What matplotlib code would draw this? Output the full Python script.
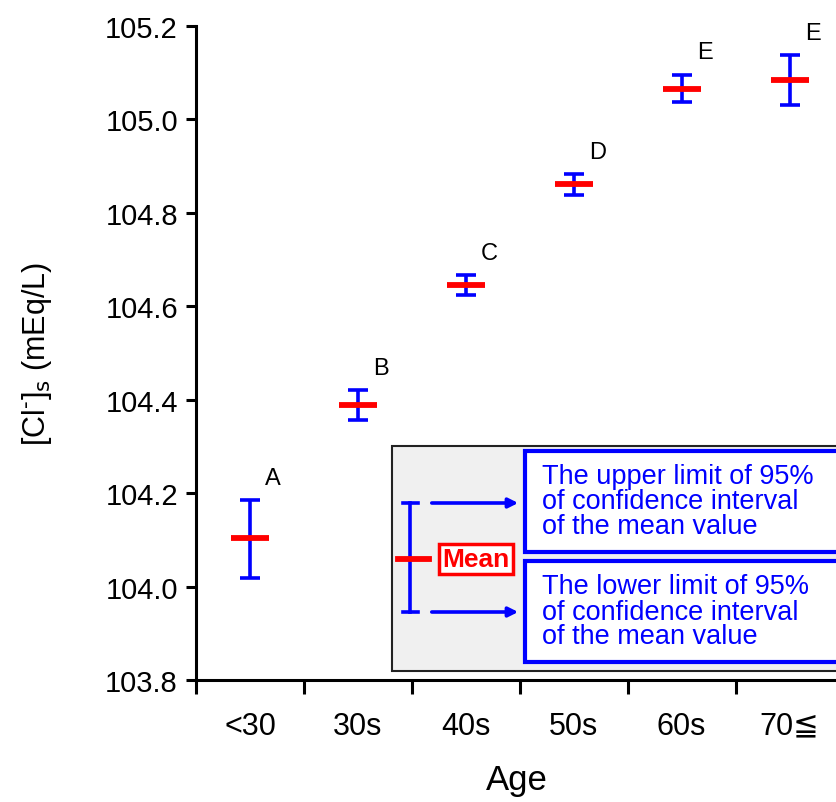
import matplotlib
matplotlib.use("Agg")
import matplotlib.pyplot as plt
from matplotlib.patches import Rectangle, FancyArrowPatch
from matplotlib.lines import Line2D

plt.rcParams['font.family'] = ['Liberation Sans', 'DejaVu Sans']

# data
age_groups = ["<30", "30s", "40s", "50s", "60s", "70\u2266"]
means = [104.104, 104.389, 104.646, 104.862, 105.066, 105.085]
ci_low = [104.018, 104.357, 104.625, 104.838, 105.037, 105.031]
ci_high = [104.185, 104.421, 104.667, 104.883, 105.096, 105.138]
letters = ["A", "B", "C", "D", "E", "E"]

W, H = 837, 803
fig = plt.figure(figsize=(W / 100, H / 100), dpi=100)

def fx(x):
    return x / W

def fy(y):
    return 1 - y / H

ax = fig.add_axes([fx(196), fy(681), fx(837) - fx(196), fy(27) - fy(681)])
ax.set_xlim(0, 5.94)
ax.set_ylim(103.8, 105.2)

xs = [i + 0.5 for i in range(len(age_groups))]
err_lo = [m - l for m, l in zip(means, ci_low)]
err_hi = [h - m for m, h in zip(means, ci_high)]
ax.errorbar(xs, means, yerr=[err_lo, err_hi], fmt="none", ecolor="#0000ff",
            elinewidth=2.6, capsize=7, capthick=2.6, zorder=3)
ax.scatter(xs, means, marker="_", s=27 ** 2, color="#ff0000", linewidths=4.2, zorder=4)
for x, top, lab in zip(xs, ci_high, letters):
    ax.annotate(lab, (x, top), xytext=(11, 8), textcoords="offset points",
                fontsize=17, ha="left", va="bottom")

# axes styling
for side in ["top", "right"]:
    ax.spines[side].set_visible(False)
for side in ["left", "bottom"]:
    ax.spines[side].set_linewidth(2.2)
ax.set_yticks([103.8 + 0.2 * i for i in range(8)])
ax.set_yticklabels([f"{103.8 + 0.2 * i:.1f}" for i in range(8)])
ax.tick_params(axis="y", direction="out", length=7, width=2.2, labelsize=21, pad=6)
ax.set_xticks(range(6))
ax.set_xticklabels([])
ax.tick_params(axis="x", which="major", direction="out", length=10, width=2.2)
ax.set_xticks(xs, minor=True)
ax.set_xticklabels(age_groups, minor=True, fontsize=22)
ax.tick_params(axis="x", which="minor", length=0, pad=22)
ax.set_xlabel("Age", fontsize=25, labelpad=16)
ax.set_ylabel(r"[Cl$^{\text{-}}$]$_{\mathrm{s}}$ (mEq/L)", fontsize=22)
ax.yaxis.set_label_coords(-(196 - 54) / (837 - 196), 0.5)

# explanatory box
fig.add_artist(Rectangle((fx(392), fy(672)), fx(845) - fx(392), fy(447) - fy(672),
                         transform=fig.transFigure, facecolor="#f0f0f0",
                         edgecolor="#222222", linewidth=1.5, zorder=5))
blue = "#0000ff"
red = "#ff0000"
fig.add_artist(Line2D([fx(410), fx(410)], [fy(504), fy(613)], color=blue, lw=2.6, zorder=6))
for yy in (504, 613):
    fig.add_artist(Line2D([fx(403), fx(418)], [fy(yy), fy(yy)], color=blue, lw=2.6, zorder=6))
    fig.add_artist(FancyArrowPatch((fx(429), fy(yy)), (fx(521), fy(yy)),
                                   transform=fig.transFigure, arrowstyle="-|>",
                                   mutation_scale=14, color=blue, lw=2.6, zorder=6))
fig.add_artist(Line2D([fx(398), fx(429)], [fy(560), fy(560)], color=red, lw=4.2, zorder=7))
fig.text(fx(476), fy(560), "Mean", color=red, fontsize=19, fontweight="bold",
         ha="center", va="center", zorder=8,
         bbox=dict(boxstyle="square,pad=0.12", facecolor="white", edgecolor=red, linewidth=2.5))
for top, bot, txt in [(452, 553, "The upper limit of 95%\nof confidence interval\nof the mean value"),
                      (562, 663, "The lower limit of 95%\nof confidence interval\nof the mean value")]:
    fig.add_artist(Rectangle((fx(525), fy(bot)), fx(845) - fx(525), fy(top) - fy(bot),
                             transform=fig.transFigure, facecolor="white",
                             edgecolor=blue, linewidth=3, zorder=6))
    fig.text(fx(542), fy((top + bot) / 2), txt, color=blue, fontsize=19.5,
             ha="left", va="center", linespacing=0.95, zorder=8)

fig.savefig("out.png", dpi=100)
